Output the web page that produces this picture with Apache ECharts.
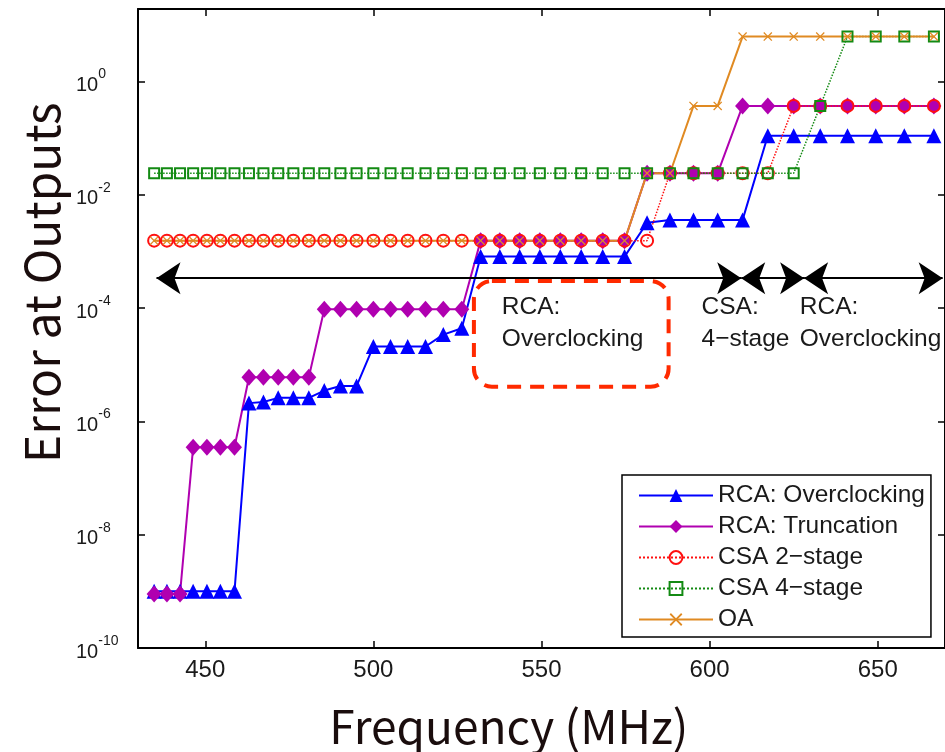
<!DOCTYPE html>
<html>
<head>
<meta charset="utf-8">
<script src="https://cdn.jsdelivr.net/npm/echarts@6/dist/echarts.min.js"></script>
<style>html,body{margin:0;padding:0;background:#fff}#c{width:945px;height:752px}</style>
</head>
<body>
<div id="c"></div>
<script>
// ---- data ----
const frequencies = [434.8, 438.6, 442.5, 446.4, 450.5, 454.5, 458.7, 463.0, 467.3, 471.7,
  476.2, 480.8, 485.4, 490.2, 495.0, 500.0, 505.1, 510.2, 515.5, 520.8,
  526.3, 531.9, 537.6, 543.5, 549.5, 555.6, 561.8, 568.2, 574.7, 581.4,
  588.2, 595.2, 602.4, 609.8, 617.3, 625.0, 632.9, 641.0, 649.4, 657.9, 666.7];

const rcaOverclocking = [1e-9, 1e-9, 1e-9, 1e-9, 1e-9, 1e-9, 1e-9, 2.1e-6, 2.2e-6, 2.6e-6,
  2.6e-6, 2.6e-6, 3.5e-6, 4.2e-6, 4.2e-6, 2.1e-5, 2.1e-5, 2.1e-5, 2.1e-5, 3.4e-5,
  4.4e-5, 8.1e-4, 8.1e-4, 8.1e-4, 8.1e-4, 8.1e-4, 8.1e-4, 8.1e-4, 8.1e-4, 3.2e-3,
  3.6e-3, 3.6e-3, 3.6e-3, 3.6e-3, 0.11, 0.11, 0.11, 0.11, 0.11, 0.11, 0.11];

const rcaTruncation = [9e-10, 9e-10, 9e-10, 3.5e-7, 3.5e-7, 3.5e-7, 3.5e-7, 6e-6, 6e-6, 6e-6,
  6e-6, 6e-6, 9.5e-5, 9.5e-5, 9.5e-5, 9.5e-5, 9.5e-5, 9.5e-5, 9.5e-5, 9.5e-5,
  9.5e-5, 1.55e-3, 1.55e-3, 1.55e-3, 1.55e-3, 1.55e-3, 1.55e-3, 1.55e-3, 1.55e-3, 0.024,
  0.024, 0.024, 0.024, 0.37, 0.37, 0.37, 0.37, 0.37, 0.37, 0.37, 0.37];

const csa2Stage = [1.55e-3, 1.55e-3, 1.55e-3, 1.55e-3, 1.55e-3, 1.55e-3, 1.55e-3, 1.55e-3, 1.55e-3, 1.55e-3,
  1.55e-3, 1.55e-3, 1.55e-3, 1.55e-3, 1.55e-3, 1.55e-3, 1.55e-3, 1.55e-3, 1.55e-3, 1.55e-3,
  1.55e-3, 1.55e-3, 1.55e-3, 1.55e-3, 1.55e-3, 1.55e-3, 1.55e-3, 1.55e-3, 1.55e-3, 1.55e-3,
  0.024, 0.024, 0.024, 0.024, 0.024, 0.37, 0.37, 0.37, 0.37, 0.37, 0.37];

const csa4Stage = [0.024, 0.024, 0.024, 0.024, 0.024, 0.024, 0.024, 0.024, 0.024, 0.024,
  0.024, 0.024, 0.024, 0.024, 0.024, 0.024, 0.024, 0.024, 0.024, 0.024,
  0.024, 0.024, 0.024, 0.024, 0.024, 0.024, 0.024, 0.024, 0.024, 0.024,
  0.024, 0.024, 0.024, 0.024, 0.024, 0.024, 0.37, 6.2, 6.2, 6.2, 6.2];

const oaValues = [1.55e-3, 1.55e-3, 1.55e-3, 1.55e-3, 1.55e-3, 1.55e-3, 1.55e-3, 1.55e-3, 1.55e-3, 1.55e-3,
  1.55e-3, 1.55e-3, 1.55e-3, 1.55e-3, 1.55e-3, 1.55e-3, 1.55e-3, 1.55e-3, 1.55e-3, 1.55e-3,
  1.55e-3, 1.55e-3, 1.55e-3, 1.55e-3, 1.55e-3, 1.55e-3, 1.55e-3, 1.55e-3, 1.55e-3, 0.024,
  0.024, 0.37, 0.37, 6.2, 6.2, 6.2, 6.2, 6.2, 6.2, 6.2, 6.2];

const seriesNames = ['RCA: Overclocking', 'RCA: Truncation', 'CSA 2\u2212stage', 'CSA 4\u2212stage', 'OA'];

// annotation (data units)
const arrowLevel = 3.36e-4;
const arrowBounds = [435.5, 609.4, 628.1, 669.3];
const regionTexts = ['RCA:\nOverclocking', 'CSA:\n4\u2212stage', 'RCA:\nOverclocking'];
const regionTextX = [538.2, 597.6, 626.8];
const regionTextTop = 2.0e-4;
const boxX = [529.9, 587.8];
const boxY = [3.0e-4, 4.1e-6];
const xTitlePos = [540.3, 1];
const yTitlePos = [430, 2.8e-4];

const xTitle = 'Frequency (MHz)';
const yTitle = 'Error at Outputs';

// ---- chart ----
const chart = echarts.init(document.getElementById('c'), null, {renderer: 'canvas'});
const pairs = vals => frequencies.map((f, i) => [f, vals[i]]);
const crossPath = 'path://M0,1L1,0L5,4L9,0L10,1L6,5L10,9L9,10L5,6L1,10L0,9L4,5Z';
const LABEL_FONT = '"Liberation Sans", Arial, sans-serif';
const TITLE_FONT = '"Noto Sans CJK JP", "Noto Sans", sans-serif';

const frameLine = {show: true, onZero: false, lineStyle: {color: '#000', width: 2}};
const frameTick = {show: true, inside: true, length: 7, lineStyle: {color: '#000', width: 1.5}};

const option = {
  animation: false,
  backgroundColor: '#fff',
  grid: {left: 138, top: 9, width: 809, height: 639, containLabel: false},
  xAxis: [{
    type: 'value', min: 430, max: 670, splitNumber: 5, position: 'bottom',
    axisLine: frameLine, axisTick: frameTick, splitLine: {show: false},
    axisLabel: {color: '#1a1a1a', fontSize: 24, fontFamily: LABEL_FONT, margin: 10,
      showMinLabel: false, showMaxLabel: false}
  }, {
    type: 'value', min: 430, max: 670, splitNumber: 5, position: 'top',
    axisLine: frameLine, axisTick: frameTick, splitLine: {show: false},
    axisLabel: {show: false}
  }],
  yAxis: [{
    type: 'log', logBase: 10, min: 1e-10, max: 19, interval: 2, position: 'left',
    axisLine: frameLine, axisTick: frameTick, splitLine: {show: false}, minorTick: {show: false},
    axisLabel: {
      showMaxLabel: false, align: 'left', margin: 62,
      formatter: v => '{b|10}{s|' + Math.round(Math.log10(v)) + '}',
      rich: {
        b: {fontSize: 20, fontFamily: LABEL_FONT, color: '#1a1a1a', lineHeight: 28, verticalAlign: 'bottom'},
        s: {fontSize: 14, fontFamily: LABEL_FONT, color: '#1a1a1a', lineHeight: 14, verticalAlign: 'top'}
      }
    }
  }, {
    type: 'log', logBase: 10, min: 1e-10, max: 19, interval: 2, position: 'right',
    axisLine: frameLine, axisTick: frameTick, splitLine: {show: false}, axisLabel: {show: false}
  }],
  legend: {
    data: seriesNames, orient: 'vertical', left: 622, top: 475,
    backgroundColor: '#fff', borderColor: '#000', borderWidth: 1.5, borderRadius: 0,
    padding: [8, 6, 5, 16], itemWidth: 74, itemHeight: 16, itemGap: 6,
    textStyle: {fontSize: 24.5, fontFamily: LABEL_FONT, color: '#1a1a1a', lineHeight: 24},
    selectedMode: false
  },
  series: [{
    name: seriesNames[0], type: 'line', data: pairs(rcaOverclocking), color: '#0000ff',
    symbol: 'triangle', symbolSize: 15,
    lineStyle: {color: '#0000ff', width: 2}, itemStyle: {color: '#0000ff'}
  }, {
    name: seriesNames[1], type: 'line', data: pairs(rcaTruncation), color: '#b000b0',
    symbol: 'diamond', symbolSize: [15, 17],
    lineStyle: {color: '#b000b0', width: 2}, itemStyle: {color: '#b000b0'}
  }, {
    name: seriesNames[2], type: 'line', data: pairs(csa2Stage), color: '#ff1010',
    symbol: 'circle', symbolSize: 12,
    lineStyle: {color: '#ff1010', width: 1.5, type: 'dotted'},
    itemStyle: {color: 'rgba(255,255,255,0)', borderColor: '#ff1010', borderWidth: 2}
  }, {
    name: seriesNames[3], type: 'line', data: pairs(csa4Stage), color: '#138a13',
    symbol: 'rect', symbolSize: 10,
    lineStyle: {color: '#138a13', width: 1.5, type: 'dotted'},
    itemStyle: {color: 'rgba(255,255,255,0)', borderColor: '#138a13', borderWidth: 2}
  }, {
    name: seriesNames[4], type: 'line', data: pairs(oaValues), color: '#e08a22',
    symbol: crossPath, symbolSize: 9,
    lineStyle: {color: '#e08a22', width: 2}, itemStyle: {color: '#e08a22'}
  }, {
    type: 'line', data: [], silent: true,
    markLine: {
      silent: true, symbol: ['arrow', 'arrow'], symbolSize: 24,
      lineStyle: {color: '#000', width: 2, type: 'solid'},
      label: {show: false}, emphasis: {disabled: true},
      data: [
        [{coord: [arrowBounds[0], arrowLevel]}, {coord: [arrowBounds[1], arrowLevel]}],
        [{coord: [arrowBounds[1], arrowLevel]}, {coord: [arrowBounds[2], arrowLevel]}],
        [{coord: [arrowBounds[2], arrowLevel]}, {coord: [arrowBounds[3], arrowLevel]}]
      ]
    }
  }]
};
chart.setOption(option);

// annotations positioned through the axes
const px = (x, y) => chart.convertToPixel({seriesIndex: 0}, [x, y]);
const b1 = px(boxX[0], boxY[0]);
const b2 = px(boxX[1], boxY[1]);
const graphics = [{
  type: 'rect', z: 100,
  shape: {x: b1[0], y: b1[1], width: b2[0] - b1[0], height: b2[1] - b1[1], r: 18},
  style: {fill: 'none', stroke: '#ff2a00', lineWidth: 4, lineDash: [14, 9]}
}];
regionTexts.forEach((t, i) => {
  const p = px(regionTextX[i], regionTextTop);
  graphics.push({
    type: 'text', z: 100, x: p[0], y: p[1],
    style: {text: t, fontSize: 24.5, fontFamily: LABEL_FONT, lineHeight: 32, fill: '#1a1a1a',
      textAlign: 'left', textVerticalAlign: 'top'}
  });
});
graphics.push({
  type: 'text', z: 100, x: px(xTitlePos[0], xTitlePos[1])[0], y: 727,
  style: {text: xTitle, fontSize: 46, fontFamily: TITLE_FONT,
    fill: '#1a0d0d', textAlign: 'center', textVerticalAlign: 'middle'}
});
graphics.push({
  type: 'text', z: 100, x: 42, y: px(yTitlePos[0], yTitlePos[1])[1], rotation: Math.PI / 2,
  style: {text: yTitle, fontSize: 48, fontFamily: TITLE_FONT,
    fill: '#1a0d0d', textAlign: 'center', textVerticalAlign: 'middle'}
});
chart.setOption({graphic: graphics});
</script>
</body>
</html>
